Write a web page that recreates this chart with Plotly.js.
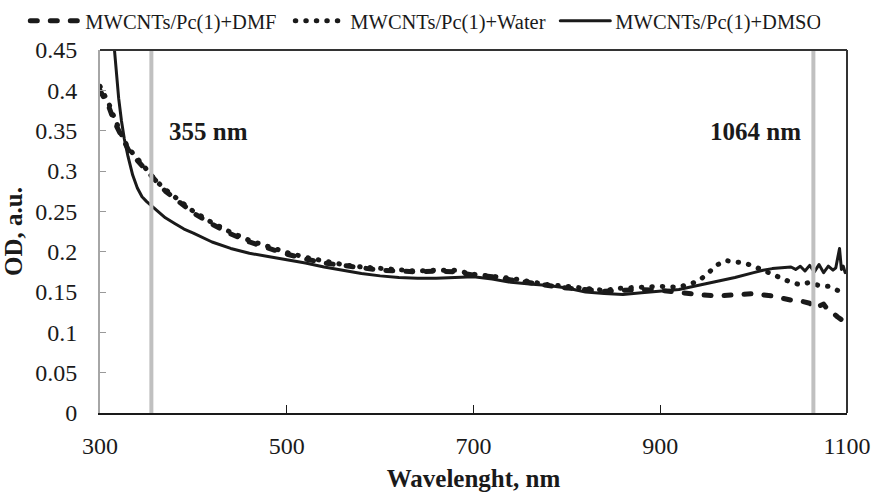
<!DOCTYPE html>
<html>
<head>
<meta charset="utf-8">
<script src="https://cdn.plot.ly/plotly-3.0.1.min.js"></script>
<style>
  html, body { margin: 0; padding: 0; background: #fff; }
  #chart { width: 876px; height: 498px; }
  .js-line { stroke-linecap: round; stroke-linejoin: round; }
</style>
</head>
<body>
<div id="chart"></div>
<script>
// ---- data ----
const seriesNames = ["MWCNTs/Pc(1)+DMF", "MWCNTs/Pc(1)+Water", "MWCNTs/Pc(1)+DMSO"];

const dmfWavelength = [300, 305, 310, 315, 320, 325, 330, 340, 350, 360, 370, 380, 390, 400, 420, 440, 460, 480, 500, 520, 540, 560, 580, 600, 620, 640, 660, 680, 700, 720, 740, 760, 780, 800, 820, 840, 860, 880, 900, 920, 940, 960, 980, 1000, 1020, 1030, 1040, 1050, 1060, 1065, 1070, 1075, 1080, 1085, 1090, 1095, 1100];
const dmfOD = [0.400, 0.390, 0.378, 0.362, 0.350, 0.338, 0.327, 0.313, 0.300, 0.286, 0.275, 0.266, 0.256, 0.248, 0.234, 0.222, 0.212, 0.204, 0.197, 0.191, 0.186, 0.183, 0.180, 0.177, 0.176, 0.175, 0.176, 0.175, 0.171, 0.169, 0.165, 0.161, 0.158, 0.155, 0.153, 0.151, 0.152, 0.153, 0.152, 0.149, 0.147, 0.145, 0.146, 0.148, 0.145, 0.142, 0.140, 0.139, 0.136, 0.130, 0.132, 0.135, 0.127, 0.124, 0.119, 0.115, 0.104];

const waterWavelength = [300, 305, 310, 315, 320, 325, 330, 340, 350, 360, 370, 380, 390, 400, 420, 440, 460, 480, 500, 520, 540, 560, 580, 600, 620, 640, 660, 680, 700, 720, 740, 760, 780, 800, 820, 840, 860, 880, 900, 920, 940, 950, 960, 970, 980, 990, 1000, 1010, 1020, 1030, 1040, 1050, 1060, 1070, 1080, 1090, 1100];
const waterOD = [0.405, 0.395, 0.382, 0.367, 0.352, 0.340, 0.329, 0.315, 0.302, 0.288, 0.277, 0.268, 0.258, 0.250, 0.236, 0.224, 0.214, 0.206, 0.199, 0.193, 0.188, 0.184, 0.181, 0.179, 0.177, 0.176, 0.177, 0.177, 0.172, 0.170, 0.167, 0.163, 0.159, 0.157, 0.154, 0.152, 0.155, 0.156, 0.157, 0.156, 0.163, 0.172, 0.183, 0.189, 0.188, 0.186, 0.182, 0.177, 0.171, 0.166, 0.162, 0.159, 0.162, 0.158, 0.157, 0.152, 0.150];

const dmsoWavelength = [314, 317, 320, 323, 326, 330, 335, 340, 345, 350, 355, 360, 370, 380, 390, 400, 420, 440, 460, 480, 500, 520, 540, 560, 580, 600, 620, 640, 660, 680, 700, 720, 740, 760, 780, 800, 820, 840, 860, 880, 900, 920, 940, 960, 980, 1000, 1010, 1020, 1030, 1040, 1045, 1050, 1055, 1060, 1065, 1070, 1075, 1080, 1085, 1088, 1090, 1092, 1094, 1096, 1098, 1100];
const dmsoOD = [0.470, 0.430, 0.390, 0.362, 0.340, 0.318, 0.295, 0.279, 0.268, 0.262, 0.257, 0.251, 0.242, 0.235, 0.228, 0.223, 0.212, 0.204, 0.198, 0.194, 0.190, 0.186, 0.181, 0.177, 0.173, 0.170, 0.168, 0.167, 0.167, 0.168, 0.169, 0.166, 0.162, 0.160, 0.158, 0.155, 0.150, 0.148, 0.147, 0.149, 0.151, 0.153, 0.158, 0.163, 0.168, 0.174, 0.177, 0.179, 0.180, 0.181, 0.178, 0.182, 0.176, 0.183, 0.175, 0.184, 0.174, 0.182, 0.177, 0.180, 0.192, 0.204, 0.178, 0.182, 0.174, 0.176];

const laserLines = [355, 1064];
const laserLabels = ["355 nm", "1064 nm"];

const xTicks = [300, 500, 700, 900, 1100];
const yTicks = [0, 0.05, 0.1, 0.15, 0.2, 0.25, 0.3, 0.35, 0.4, 0.45];

// ---- chart ----
const FONT = "Liberation Serif, Times New Roman, serif";
const ink = "#1a1a1a";

const traces = [
  { x: dmfWavelength, y: dmfOD, name: seriesNames[0], mode: "lines",
    line: { color: ink, width: 5, dash: "7px,13px" } },
  { x: waterWavelength, y: waterOD, name: seriesNames[1], mode: "lines",
    line: { color: ink, width: 5, dash: "0.5px,10px" } },
  { x: dmsoWavelength, y: dmsoOD, name: seriesNames[2], mode: "lines",
    line: { color: ink, width: 3 } }
];

const shapes = laserLines.map(v => ({
  type: "line", xref: "x", yref: "paper", x0: v, x1: v, y0: 0, y1: 1,
  line: { color: "#c0c0c0", width: 4 }, layer: "above"
}));
shapes.push({ type: "line", xref: "paper", yref: "paper", x0: 1, x1: 1, y0: 0, y1: 1,
  line: { color: "#333", width: 2 } });
shapes.push({ type: "line", xref: "paper", yref: "paper", x0: 0, x1: 1, y0: 1, y1: 1,
  line: { color: "#333", width: 2 } });

const annotations = [
  { x: laserLines[0], y: 0.775, xref: "x", yref: "paper", text: "<b>" + laserLabels[0] + "</b>",
    showarrow: false, xanchor: "left", yanchor: "middle", xshift: 16,
    font: { family: FONT, size: 25, color: ink } },
  { x: laserLines[1], y: 0.775, xref: "x", yref: "paper", text: "<b>" + laserLabels[1] + "</b>",
    showarrow: false, xanchor: "right", yanchor: "middle", xshift: -10,
    font: { family: FONT, size: 25, color: ink } }
];

const layout = {
  width: 876, height: 498,
  margin: { l: 100, r: 29, t: 50, b: 85, autoexpand: false },
  paper_bgcolor: "#fff", plot_bgcolor: "#fff",
  font: { family: FONT, size: 24, color: ink },
  showlegend: true,
  legend: {
    orientation: "h", x: -0.1, xanchor: "left", y: 1.135, yanchor: "top",
    font: { family: FONT, size: 20.5, color: ink },
    bgcolor: "rgba(0,0,0,0)", itemwidth: 50, entrywidth: 200, entrywidthmode: "pixels"
  },
  xaxis: {
    range: [300, 1100], tickvals: xTicks, ticks: "inside", ticklen: 8, tickwidth: 1,
    tickcolor: ink, showline: true, linecolor: ink, linewidth: 2,
    showgrid: false, zeroline: false, ticklabelstandoff: 10,
    tickfont: { family: FONT, size: 24, color: ink },
    title: { text: "<b>Wavelenght, nm</b>", font: { family: FONT, size: 25, color: ink }, standoff: 12 }
  },
  yaxis: {
    range: [0, 0.45], tickvals: yTicks, ticks: "inside", ticklen: 6, tickwidth: 1,
    tickcolor: "#999", showline: true, linecolor: "#a6a6a6", linewidth: 2,
    showgrid: false, zeroline: false, ticklabelstandoff: 16,
    tickfont: { family: FONT, size: 24, color: ink },
    title: { text: "<b>OD, a.u.</b>", font: { family: FONT, size: 25, color: ink }, standoff: 12 }
  },
  shapes: shapes,
  annotations: annotations
};

Plotly.newPlot("chart", traces, layout, { displayModeBar: false, staticPlot: true });
</script>
</body>
</html>
